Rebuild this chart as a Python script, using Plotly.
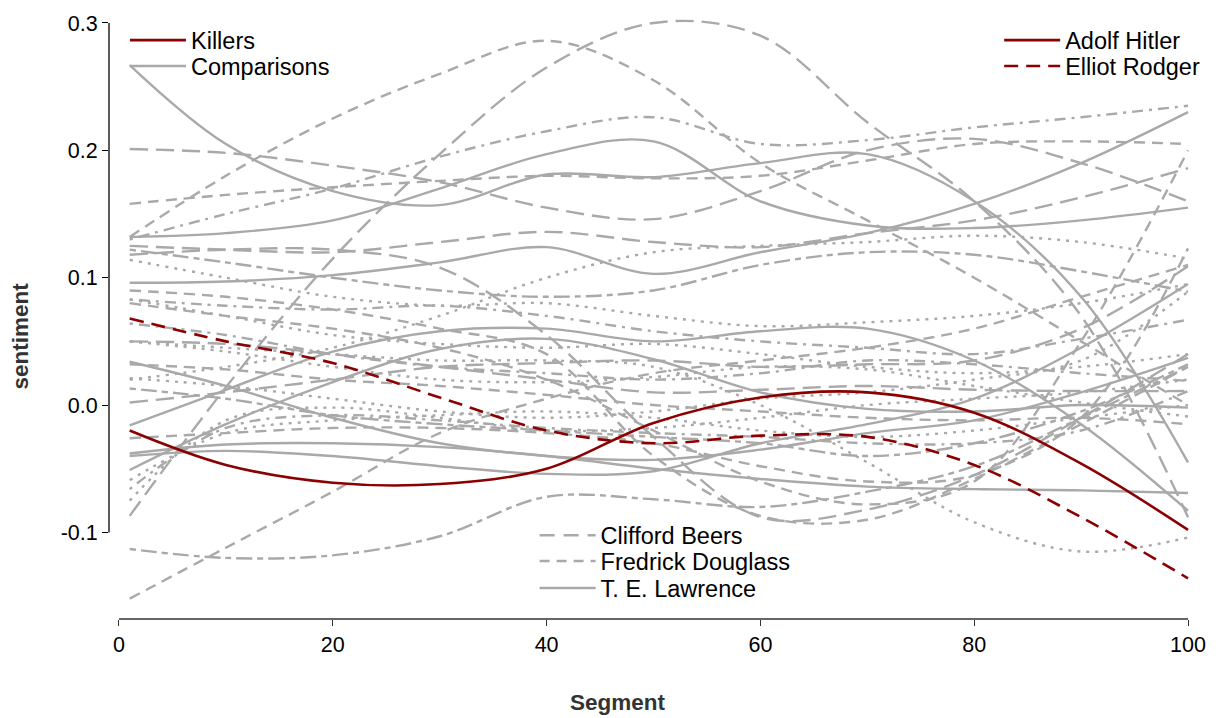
import plotly.graph_objects as go

# ---------------- data (values read at each segment knot) ----------------
segment = [1, 10, 20, 30, 40, 50, 60, 70, 80, 90, 100]

hitler = [-0.020, -0.047, -0.061, -0.062, -0.050, -0.014, 0.006, 0.010, -0.006, -0.046, -0.098]
rodger = [0.068, 0.050, 0.033, 0.006, -0.020, -0.030, -0.024, -0.025, -0.047, -0.088, -0.136]

cmp_01 = [0.132, 0.135, 0.145, 0.170, 0.197, 0.207, 0.160, 0.141, 0.139, 0.145, 0.155]
cmp_02 = [0.267, 0.205, 0.168, 0.157, 0.181, 0.179, 0.190, 0.197, 0.160, 0.085, -0.045]
cmp_03 = [0.096, 0.097, 0.102, 0.112, 0.124, 0.103, 0.120, 0.135, 0.158, 0.190, 0.230]
cmp_04 = [-0.087, 0.014, 0.115, 0.197, 0.265, 0.300, 0.290, 0.222, 0.160, 0.070, -0.088]
cmp_05 = [0.132, 0.180, 0.225, 0.260, 0.286, 0.255, 0.190, 0.145, 0.100, 0.050, 0.000]
cmp_06 = [0.201, 0.198, 0.188, 0.175, 0.155, 0.146, 0.168, 0.200, 0.209, 0.190, 0.160]
cmp_07 = [0.130, 0.150, 0.170, 0.195, 0.215, 0.226, 0.205, 0.208, 0.218, 0.226, 0.235]
cmp_08 = [0.158, 0.165, 0.171, 0.176, 0.180, 0.178, 0.180, 0.192, 0.205, 0.207, 0.205]
cmp_09 = [0.125, 0.122, 0.120, 0.128, 0.136, 0.128, 0.124, 0.135, 0.145, 0.163, 0.186]
cmp_10 = [0.020, 0.030, 0.045, 0.070, 0.100, 0.120, 0.125, 0.128, 0.133, 0.128, 0.115]
cmp_11 = [0.050, 0.045, 0.040, 0.035, 0.035, 0.030, 0.000, -0.045, -0.092, -0.115, -0.104]
cmp_12 = [0.080, 0.070, 0.060, 0.045, 0.020, -0.020, -0.060, -0.078, -0.060, 0.050, 0.200]
cmp_13 = [-0.016, 0.012, 0.042, 0.058, 0.060, 0.050, 0.058, 0.060, 0.035, -0.015, -0.083]
cmp_14 = [0.034, 0.015, -0.010, -0.030, -0.040, -0.043, -0.035, -0.022, -0.012, 0.010, 0.037]
cmp_15 = [-0.051, -0.015, 0.018, 0.044, 0.052, 0.036, 0.010, -0.003, -0.005, 0.000, -0.002]
cmp_16 = [-0.038, -0.031, -0.030, -0.033, -0.040, -0.050, -0.058, -0.064, -0.066, -0.067, -0.069]
cmp_17 = [-0.040, -0.036, -0.040, -0.048, -0.054, -0.052, -0.030, -0.015, 0.005, 0.045, 0.095]
cmp_18 = [0.118, 0.122, 0.122, 0.108, 0.055, -0.025, -0.088, -0.082, -0.055, -0.010, 0.040]
cmp_19 = [0.090, 0.085, 0.075, 0.060, 0.040, -0.040, -0.087, -0.090, -0.058, -0.015, 0.030]
cmp_20 = [-0.113, -0.120, -0.118, -0.103, -0.072, -0.074, -0.080, -0.068, -0.048, -0.010, 0.030]
cmp_21 = [-0.152, -0.112, -0.068, -0.022, 0.005, 0.025, 0.035, 0.045, 0.060, 0.085, 0.110]
cmp_22 = [0.122, 0.112, 0.100, 0.090, 0.085, 0.090, 0.110, 0.120, 0.118, 0.105, 0.089]
cmp_23 = [0.114, 0.100, 0.085, 0.078, 0.080, 0.070, 0.062, 0.065, 0.070, 0.080, 0.095]
cmp_24 = [0.083, 0.078, 0.075, 0.078, 0.070, 0.058, 0.050, 0.045, 0.040, 0.052, 0.067]
cmp_25 = [0.083, 0.070, 0.055, 0.048, 0.045, 0.048, 0.040, 0.030, 0.025, 0.030, 0.040]
cmp_26 = [0.064, 0.055, 0.040, 0.030, 0.025, 0.020, 0.025, 0.035, 0.032, 0.025, 0.019]
cmp_27 = [0.050, 0.048, 0.040, 0.030, 0.020, 0.010, 0.012, 0.015, 0.012, 0.011, 0.011]
cmp_28 = [0.050, 0.042, 0.030, 0.020, 0.018, 0.022, 0.030, 0.028, 0.015, 0.002, -0.009]
cmp_29 = [0.032, 0.028, 0.020, 0.015, 0.008, 0.000, -0.005, -0.010, -0.012, -0.010, -0.015]
cmp_30 = [0.021, 0.015, 0.005, -0.005, -0.010, -0.005, 0.005, 0.010, 0.020, 0.035, 0.089]
cmp_31 = [0.013, 0.005, -0.008, -0.015, -0.020, -0.025, -0.030, -0.040, -0.030, -0.005, 0.032]
cmp_32 = [0.002, 0.010, 0.020, 0.030, 0.033, 0.035, 0.030, 0.032, 0.035, 0.060, 0.109]
cmp_33 = [-0.026, -0.022, -0.018, -0.018, -0.022, -0.030, -0.048, -0.060, -0.055, -0.010, 0.123]
cmp_34 = [-0.059, -0.022, -0.012, -0.008, -0.005, -0.010, -0.020, -0.025, -0.020, -0.010, 0.000]
cmp_35 = [-0.066, -0.018, -0.008, -0.012, -0.018, -0.022, -0.025, -0.030, -0.030, -0.020, 0.011]
cmp_36 = [-0.075, -0.012, -0.002, -0.010, -0.020, -0.018, -0.010, 0.000, 0.005, 0.010, 0.020]

y_ticks = [-0.1, 0.0, 0.1, 0.2, 0.3]
y_tick_text = ["-0.1", "0.0", "0.1", "0.2", "0.3"]
x_ticks = [0, 20, 40, 60, 80, 100]

# ---------------- styles ----------------
GRAY = "#A9A9A9"
RED = "#8B0000"
SOLID = "solid"
DASHED = "11px,7px"
LONGDASH = "18px,8px"
DOTTED = "3px,6px"
DOTDASH = "3px,6px,11px,6px"
TWODASH = "6px,5px,16px,5px"

comparisons = [
    (cmp_01, SOLID), (cmp_02, SOLID), (cmp_03, SOLID), (cmp_04, LONGDASH),
    (cmp_05, DASHED), (cmp_06, LONGDASH), (cmp_07, DOTDASH), (cmp_08, DASHED),
    (cmp_09, LONGDASH), (cmp_10, DOTTED), (cmp_11, DOTTED), (cmp_12, DASHED),
    (cmp_13, SOLID), (cmp_14, SOLID), (cmp_15, SOLID), (cmp_16, SOLID),
    (cmp_17, SOLID), (cmp_18, LONGDASH), (cmp_19, DASHED), (cmp_20, TWODASH),
    (cmp_21, DASHED), (cmp_22, TWODASH), (cmp_23, DOTTED), (cmp_24, DOTDASH),
    (cmp_25, DOTTED), (cmp_26, DOTDASH), (cmp_27, LONGDASH), (cmp_28, DOTTED),
    (cmp_29, DASHED), (cmp_30, DOTTED), (cmp_31, TWODASH), (cmp_32, LONGDASH),
    (cmp_33, DASHED), (cmp_34, DOTTED), (cmp_35, DOTDASH), (cmp_36, DOTTED),
]

FONT = "Liberation Sans, Arial, sans-serif"
W, H = 1218, 718
ML, MR, MT, MB = 109, 23, 15, 99
PW, PH = W - ML - MR, H - MT - MB

fig = go.Figure()

for vals, dash in comparisons:
    fig.add_trace(go.Scatter(
        x=segment, y=vals, mode="lines", showlegend=False, hoverinfo="skip",
        line=dict(color=GRAY, width=2.4, dash=dash, shape="spline", smoothing=1.0),
    ))

fig.add_trace(go.Scatter(x=segment, y=hitler, mode="lines", name="Adolf Hitler",
                         legend="legend3",
                         line=dict(color=RED, width=2.6, shape="spline", smoothing=1.0)))
fig.add_trace(go.Scatter(x=segment, y=rodger, mode="lines", name="Elliot Rodger",
                         legend="legend4",
                         line=dict(color=RED, width=2.6, dash="14px,8px", shape="spline", smoothing=1.0)))

# legend-only entries
legend_only = [
    ("Killers", RED, SOLID, "legend"),
    ("Comparisons", GRAY, SOLID, "legend2"),
    ("Clifford Beers", GRAY, "15px,9px", "legend5"),
    ("Fredrick Douglass", GRAY, "10px,7px", "legend6"),
    ("T. E. Lawrence", GRAY, SOLID, "legend7"),
]
for name, col, dash, lg in legend_only:
    fig.add_trace(go.Scatter(x=[None], y=[None], mode="lines", name=name, legend=lg,
                             line=dict(color=col, width=2.6, dash=dash)))

def px2paper(xp, yp):
    return (xp - ML) / PW, (H - MB - yp) / PH

legend_pos = {
    "legend": (125, 37.5), "legend2": (125, 63.5),
    "legend3": (1000, 37.5), "legend4": (1000, 63.5),
    "legend5": (535, 535), "legend6": (535, 561), "legend7": (535, 588),
}
legend_layout = {}
for lg, (xp, yp) in legend_pos.items():
    lx, ly = px2paper(xp, yp)
    legend_layout[lg] = dict(x=lx, y=ly, xanchor="left", yanchor="middle",
                             bgcolor="rgba(0,0,0,0)", borderwidth=0,
                             font=dict(family=FONT, size=23.5, color="black"),
                             itemwidth=56)

x0_px, x100_px = 119, 1189
xs = (x100_px - x0_px) / 100.0
x_range = [(ML - x0_px) / xs, (ML + PW - x0_px) / xs]
y03_px, ym01_px = 20, 532
ys = (ym01_px - y03_px) / 0.4
y_range = [0.3 - (H - MB - y03_px) / ys, 0.3 + (y03_px - MT) / ys]

fig.update_layout(
    width=W, height=H,
    margin=dict(l=ML, r=MR, t=MT, b=MB),
    paper_bgcolor="white", plot_bgcolor="white",
    font=dict(family=FONT, size=21.5, color="black"),
    xaxis=dict(range=x_range, tickvals=x_ticks, ticks="outside", ticklen=6,
               tickcolor="#333333", tickwidth=1.3, showgrid=False, zeroline=False,
               showline=False, tickfont=dict(size=21.5, color="black")),
    yaxis=dict(range=y_range, tickvals=y_ticks, ticktext=y_tick_text, ticks="outside",
               ticklen=6, tickcolor="black", tickwidth=1.3, showgrid=False,
               zeroline=False, showline=False, tickfont=dict(size=21.5, color="black")),
    shapes=[
        dict(type="line", xref="paper", yref="y", x0=0, x1=0, y0=-0.1, y1=0.3,
             line=dict(color="black", width=1.3)),
        dict(type="line", xref="x", yref="paper", x0=0, x1=100, y0=0, y1=0,
             line=dict(color="#333333", width=1.3)),
    ],
    annotations=[
        dict(text="<b>Segment</b>", xref="paper", yref="paper",
             x=(618 - ML) / PW, y=(H - MB - 703) / PH, showarrow=False,
             xanchor="center", yanchor="middle",
             font=dict(family=FONT, size=22.5, color="#333333")),
        dict(text="<b>sentiment</b>", xref="paper", yref="paper",
             x=(20 - ML) / PW, y=(H - MB - 335) / PH, showarrow=False, textangle=-90,
             xanchor="center", yanchor="middle",
             font=dict(family=FONT, size=22.5, color="#333333")),
    ],
    **legend_layout,
)

fig.write_html("out.html")
